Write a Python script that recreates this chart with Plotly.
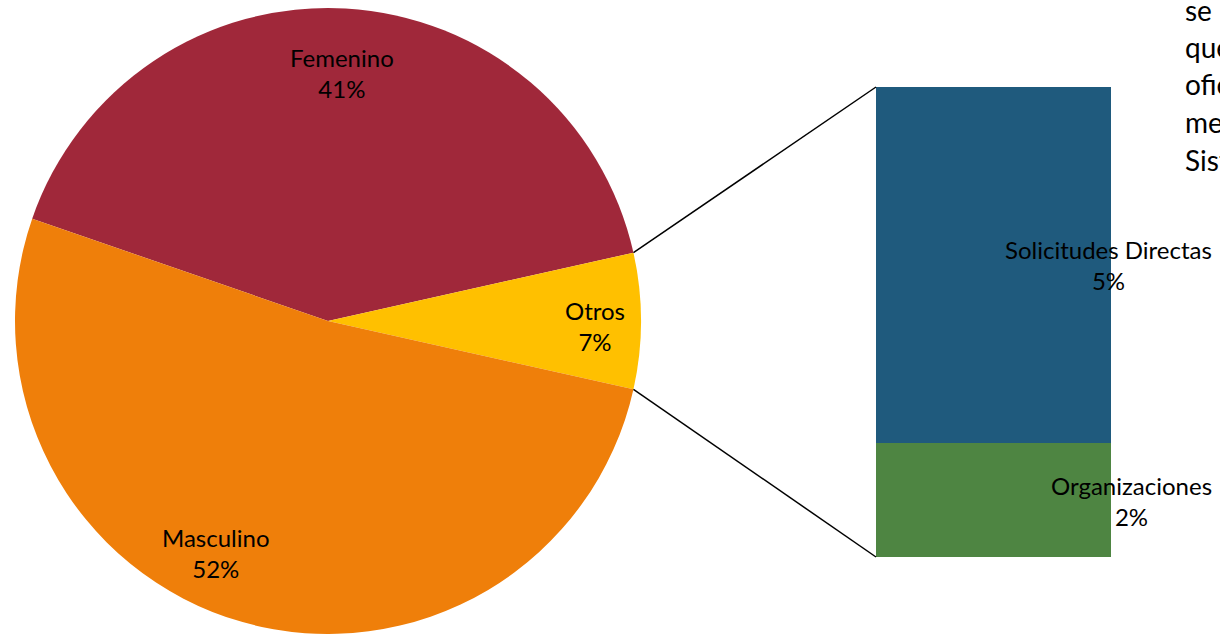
import math
import plotly.graph_objects as go

# ---- data ----
pie_labels = ["Femenino", "Otros", "Masculino"]
pie_values = [41.2, 7.0, 51.8]
pie_colors = ["#A0283A", "#FFC000", "#EF7F0A"]

bar_labels = ["Organizaciones", "Solicitudes Directas"]
bar_values = [1.7, 5.3]
bar_colors = ["#4E8542", "#1F5A7D"]

side_text = ["se", "que", "ofic", "me", "Sist"]

OFF = 0  # page margin removed via post_script
W, H = 1220 - OFF, 634 - OFF
FONT = "Lato, 'Open Sans', sans-serif"
fs = 24

# pie geometry (screen pixels)
cx, cy, r = 328, 321, 313
total = sum(pie_values)
otros = pie_values[pie_labels.index("Otros")]
fem = pie_values[pie_labels.index("Femenino")]
half = otros / total * 180.0
start_math = half + fem / total * 360.0          # Femenino starts here (math angle)
rotation = 90.0 - start_math

# bar geometry (screen pixels)
bx0, bx1, by_top, by_bot = 876, 1111, 87, 557

def px(x):
    return (x - OFF) / W

def py(y):
    return (H - (y - OFF)) / H

fig = go.Figure()
fig.add_trace(go.Pie(
    labels=pie_labels, values=pie_values, sort=False, direction="clockwise",
    rotation=rotation, marker=dict(colors=pie_colors, line=dict(width=0)),
    textinfo="none", hoverinfo="label+percent", showlegend=False,
    domain=dict(x=[px(cx - r), px(cx + r)], y=[max(0, py(cy + r)), min(1, py(cy - r))]),
))

bar_total = sum(bar_values)
for lab, val, col in zip(bar_labels, bar_values, bar_colors):
    fig.add_trace(go.Bar(
        x=["Otros"], y=[val], name=lab, marker=dict(color=col, line=dict(width=0)),
        xaxis="x", yaxis="y", showlegend=False,
    ))

fig.update_layout(
    width=W, height=H, margin=dict(l=0, r=0, t=0, b=0),
    paper_bgcolor="white", plot_bgcolor="rgba(0,0,0,0)",
    barmode="stack", bargap=0,
    xaxis=dict(domain=[px(bx0), px(bx1)], visible=False, range=[-0.5, 0.5], fixedrange=True),
    yaxis=dict(domain=[py(by_bot), py(by_top)], visible=False, range=[0, bar_total], fixedrange=True),
    font=dict(family=FONT, size=fs, color="black"),
)

# connector lines (pie edge of "Otros" to bar corners)
for sgn, val in [(1, bar_total), (-1, 0)]:
    ang = math.radians(sgn * half)
    ex = cx + r * math.cos(ang)
    ey = cy - r * math.sin(ang)
    ty = by_bot - (val / bar_total) * (by_bot - by_top)
    fig.add_shape(type="line", xref="paper", yref="paper",
                  x0=px(ex), y0=py(ey), x1=px(bx0), y1=py(ty),
                  line=dict(color="black", width=1.5))

# labels
pie_pct = [round(v / total * 100) for v in pie_values]
pie_pos = {"Femenino": (342, 73), "Otros": (595, 326), "Masculino": (216, 553)}
for lab, p in zip(pie_labels, pie_pct):
    x, y = pie_pos[lab]
    fig.add_annotation(x=px(x), y=py(y), xref="paper", yref="paper",
                       xanchor="center", yanchor="middle",
                       text=f"{lab}<br>{p}%", showarrow=False,
                       font=dict(family=FONT, size=fs, color="black"))

bar_pos = {"Solicitudes Directas": (1108, 265), "Organizaciones": (1131, 501)}
for lab, v in zip(bar_labels, bar_values):
    x, y = bar_pos[lab]
    fig.add_annotation(x=px(x), y=py(y), xref="paper", yref="paper",
                       xanchor="center", yanchor="middle",
                       text=f"{lab}<br>{round(v)}%", showarrow=False,
                       font=dict(family=FONT, size=fs, color="black"))

for i, t in enumerate(side_text):
    fig.add_annotation(x=px(1183), y=py(9.5 + i * 37.5), xref="paper", yref="paper",
                       xanchor="left", yanchor="middle", text=t, showarrow=False,
                       font=dict(family=FONT, size=28, color="black"))

fig.write_html(
    "out.html",
    config={"displayModeBar": False},
    post_script="document.body.style.margin='0';document.body.style.overflow='hidden';",
)
